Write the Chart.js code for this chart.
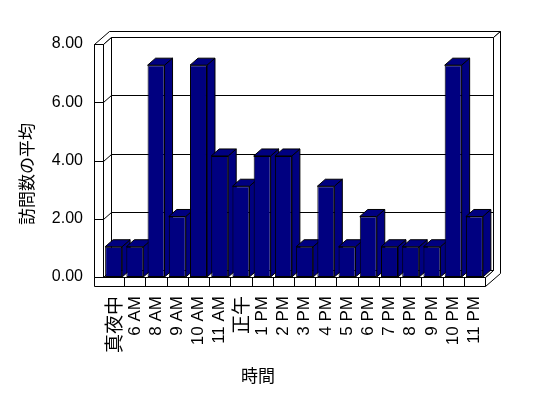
<!DOCTYPE html>
<html><head><meta charset="utf-8">
<script src="https://cdn.jsdelivr.net/npm/chart.js@4.4.1/dist/chart.umd.min.js"></script>
<style>html,body{margin:0;padding:0;background:#fff;overflow:hidden}canvas{display:block}</style>
</head><body>
<canvas id="c" width="548" height="398"></canvas>
<script>
const categories = ['真夜中','6 AM','8 AM','9 AM','10 AM','11 AM','正午','1 PM','2 PM','3 PM','4 PM','5 PM','6 PM','7 PM','8 PM','9 PM','10 PM','11 PM'];
const averageVisits = [1,1,7,2,7,4,3,4,4,1,3,1,2,1,1,1,7,2];
const valueTicks = [0,2,4,6,8];
const xTitle = '時間';
const yTitle = '訪問数の平均';

const NAVY = '#000080';
const DX = 8, DY = 7;      // depth of the plot box
const BX = 7, BY = 6;      // back wall thickness
const TX = 9;              // left wall thickness
const FH = 9;              // floor thickness
const LATIN = "'Liberation Sans','Noto Sans CJK JP',sans-serif";
const CJK = "'Noto Sans CJK JP','Liberation Sans',sans-serif";

function P(v){ return Math.round(v) + 0.5; }
function poly(ctx, pts, fill){
  ctx.beginPath();
  pts.forEach((p,i)=> i ? ctx.lineTo(P(p[0]),P(p[1])) : ctx.moveTo(P(p[0]),P(p[1])));
  ctx.closePath();
  ctx.fillStyle = fill; ctx.fill();
  ctx.stroke();
}
function line(ctx, x1,y1,x2,y2){
  ctx.beginPath(); ctx.moveTo(P(x1),P(y1)); ctx.lineTo(P(x2),P(y2)); ctx.stroke();
}

const excel3d = {
  id: 'excel3d',
  beforeDatasetsDraw(chart){
    const ctx = chart.ctx;
    const {left:L, right:R, top:T, bottom:B} = chart.chartArea;
    const ys = chart.scales.y;
    ctx.save();
    ctx.lineWidth = 1; ctx.strokeStyle = '#000';
    poly(ctx, [[L-TX,T],[L-TX+DX+BX,T-DY-BY],[R+DX+BX,T-DY-BY],[R+DX,T-DY],[L+DX,T-DY],[L,T]], '#fff');
    poly(ctx, [[R+DX,T-DY],[R+DX+BX,T-DY-BY],[R+DX+BX,B+FH-DY-BY],[R,B+FH],[R,B],[R+DX,B-DY]], '#fff');
    poly(ctx, [[L+DX,T-DY],[R+DX,T-DY],[R+DX,B-DY],[L+DX,B-DY]], '#fff');
    poly(ctx, [[L,T],[L+DX,T-DY],[L+DX,B-DY],[L,B]], '#fff');
    poly(ctx, [[L-TX,T],[L,T],[L,B],[L-TX,B]], '#fff');
    poly(ctx, [[L,B],[L+DX,B-DY],[R+DX,B-DY],[R,B]], '#fff');
    poly(ctx, [[L-TX,B],[R,B],[R,B+FH],[L-TX,B+FH]], '#fff');
    valueTicks.forEach(v=>{
      const yf = ys.getPixelForValue(v);
      line(ctx, L-TX, yf, L, yf);
      if (v > 0 && v < 8){
        line(ctx, L, yf, L+DX, yf-DY);
        line(ctx, L+DX, yf-DY, R+DX, yf-DY);
      }
    });
    const n = categories.length, step = (R-L)/n;
    for (let k=1;k<n;k++){ line(ctx, L+k*step, B, L+k*step, B+FH); }
    const meta = chart.getDatasetMeta(0);
    meta.data.forEach(bar=>{
      const p = bar.getProps(['x','y','base','width'], true);
      const l = p.x - p.width/2, r = p.x + p.width/2, t = p.y, b = p.base;
      ctx.fillStyle = NAVY;
      ctx.beginPath();
      ctx.moveTo(r,t); ctx.lineTo(r+DX,t-DY); ctx.lineTo(r+DX,b-DY); ctx.lineTo(r,b); ctx.closePath();
      ctx.fill(); ctx.stroke();
      ctx.beginPath();
      ctx.moveTo(l,t); ctx.lineTo(l+DX,t-DY); ctx.lineTo(r+DX,t-DY); ctx.lineTo(r,t); ctx.closePath();
      ctx.fill(); ctx.stroke();
    });
    ctx.restore();
  },
  afterDraw(chart){
    const ctx = chart.ctx;
    ctx.save();
    ctx.fillStyle = '#000';
    ctx.font = "17px " + CJK;
    ctx.textAlign = 'center'; ctx.textBaseline = 'middle';
    ctx.fillText(xTitle, 258, 376);
    ctx.translate(27, 174);
    ctx.rotate(-Math.PI/2);
    ctx.fillText(yTitle, 0, 0);
    ctx.restore();
  }
};

const isCJK = s => /[\u3000-\u9fff]/.test(s);

new Chart(document.getElementById('c'), {
  type: 'bar',
  data: {
    labels: categories,
    datasets: [{
      data: averageVisits,
      yAxisID: 'yBar',
      backgroundColor: NAVY,
      borderColor: '#000',
      borderWidth: 1,
      borderSkipped: false,
      categoryPercentage: 1,
      barPercentage: 0.8
    }]
  },
  options: {
    responsive: false,
    animation: false,
    devicePixelRatio: 1,
    layout: { padding: { left: 0, right: 63, top: 44, bottom: 0 } },
    plugins: { legend: { display: false }, tooltip: { enabled: false }, title: { display: false } },
    scales: {
      x: {
        grid: { display: false, drawTicks: false },
        border: { display: false },
        ticks: {
          autoSkip: false, minRotation: 90, maxRotation: 90, padding: 19, color: '#000',
          font: c => (c.tick && isCJK(String(c.tick.label)))
            ? { size: 19, family: CJK }
            : { size: 17, family: LATIN }
        },
        afterFit: s => { s.height = 121; }
      },
      y: {
        min: 0, max: 8,
        afterBuildTicks: s => { s.ticks = valueTicks.map(v => ({ value: v })); },
        grid: { display: false, drawTicks: false },
        border: { display: false },
        ticks: { padding: 20, color: '#000', font: { size: 16, family: LATIN }, callback: v => Number(v).toFixed(2) },
        afterFit: s => { s.width = 103; }
      },
      yBar: {
        display: false,
        min: 0, max: 7.7
      }
    }
  },
  plugins: [excel3d]
});
</script>
</body></html>
